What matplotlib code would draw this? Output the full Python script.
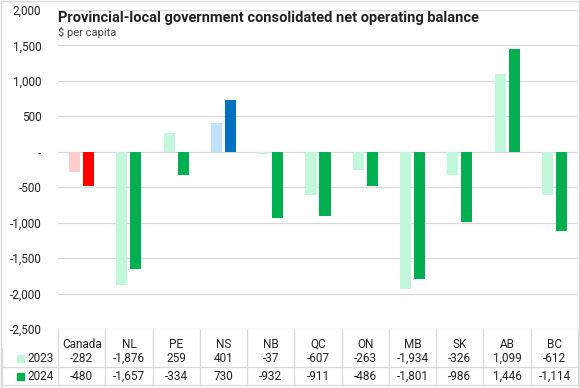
from matplotlib import pyplot as plt
from matplotlib.transforms import blended_transform_factory
from matplotlib.patches import Rectangle
import numpy as np

regions = ["Canada", "NL", "PE", "NS", "NB", "QC", "ON", "MB", "SK", "AB", "BC"]
years = ["2023", "2024"]
bal_2023 = [-282, -1876, 259, 401, -37, -607, -263, -1934, -326, 1099, -612]
bal_2024 = [-480, -1657, -334, 730, -932, -911, -486, -1801, -986, 1446, -1114]

# colours: Canada and NS highlighted
col_2023 = ["#ffcccc", "#c2f7dc", "#c2f7dc", "#bfe1fa"] + ["#c2f7dc"] * 7
col_2024 = ["#ff0000", "#00b050", "#00b050", "#0070c0"] + ["#00b050"] * 7
legend_2023 = "#c2f7dc"
legend_2024 = "#00b050"

plt.rcParams["font.family"] = ["Roboto", "DejaVu Sans"]

W, H = 580, 388
fig = plt.figure(figsize=(5.8, 3.88), dpi=100)
left, right, top, bottom = 58, 578, 10, 329
ax = fig.add_axes([left / W, 1 - bottom / H, (right - left) / W, (bottom - top) / H])

x = np.arange(len(regions))
bw = 0.233
off = 0.148
ax.bar(x - off, bal_2023, bw, color=col_2023, zorder=3)
ax.bar(x + off, bal_2024, bw, color=col_2024, zorder=3)

ax.set_xlim(-0.5, len(regions) - 0.5)
ax.set_ylim(-2500, 2000)
yt = np.arange(-2500, 2001, 500)
ax.set_yticks(yt)
ax.set_yticklabels(["-" if v == 0 else f"{v:,}" for v in yt])
ax.tick_params(axis="y", length=0, pad=12, labelsize=8.5, labelcolor="#222222")
ax.set_xticks([])
ax.grid(axis="y", color="#d9d9d9", linewidth=0.9, zorder=0)
for s in ax.spines.values():
    s.set_visible(False)

# title
fig.text(left / W, 1 - 18 / H, "Provincial-local government consolidated net operating balance",
         fontsize=10.5, fontweight="bold", color="#222222", va="center")
fig.text(left / W, 1 - 32 / H, "$ per capita", fontsize=8, color="#444444", va="center")

# data table under the chart
tr = blended_transform_factory(ax.transData, fig.transFigure)
line_kw = dict(color="#d9d9d9", linewidth=0.9, clip_on=False)
y_head, y_r1, y_r2 = 1 - 344 / H, 1 - 358 / H, 1 - 376 / H
y_mid, y_bot = 1 - 367 / H, 1 - 385 / H
y_top = 1 - bottom / H
for b in np.arange(-0.5, len(regions), 1):
    ax.plot([b, b], [y_top, y_bot], transform=tr, **line_kw)
fig.add_artist(plt.Line2D([2 / W, right / W], [y_mid, y_mid], **line_kw))
fig.add_artist(plt.Line2D([2 / W, right / W], [y_bot, y_bot], **line_kw))
fig.add_artist(plt.Line2D([2 / W, 2 / W], [1 - 348 / H, y_bot], **line_kw))

for i, r in enumerate(regions):
    ax.text(i, y_head, r, transform=tr, ha="center", va="center", fontsize=8.5, color="#222222")
    ax.text(i, y_r1, f"{bal_2023[i]:,}", transform=tr, ha="center", va="center", fontsize=8.5, color="#222222")
    ax.text(i, y_r2, f"{bal_2024[i]:,}", transform=tr, ha="center", va="center", fontsize=8.5, color="#222222")

for yy, lab, c in [(y_r1, years[0], legend_2023), (y_r2, years[1], legend_2024)]:
    fig.add_artist(Rectangle((17 / W, yy - 3.5 / H), 7 / W, 7 / H, color=c, transform=fig.transFigure))
    fig.text(27 / W, yy, lab, fontsize=8.5, color="#222222", va="center")

# chart border
fig.add_artist(Rectangle((0.5 / W, 0.5 / H), 1 - 1.5 / W, 1 - 1.5 / H, fill=False,
                         edgecolor="#d9d9d9", linewidth=1, transform=fig.transFigure))

plt.savefig("out.png", dpi=100)
